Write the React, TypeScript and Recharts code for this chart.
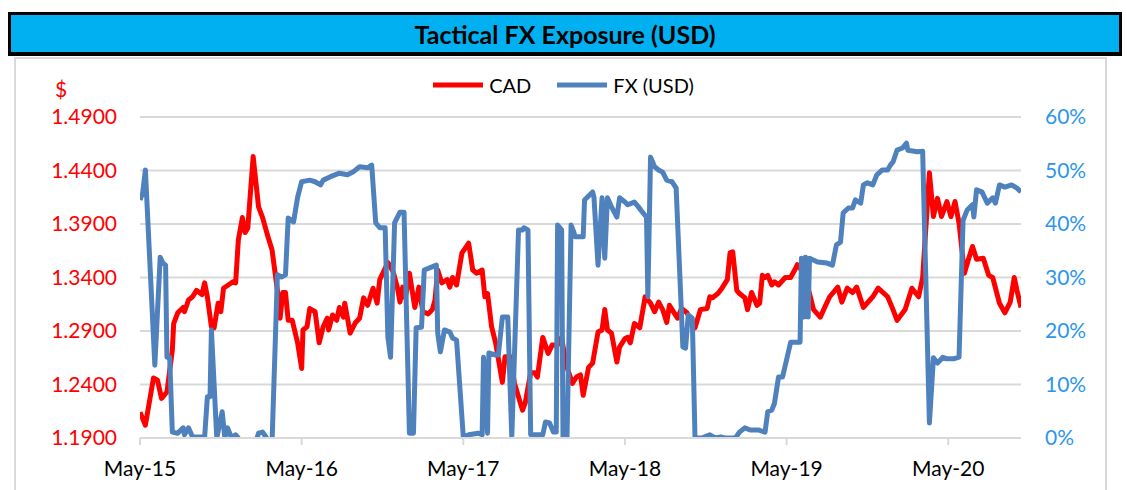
import { LineChart, Line, XAxis, YAxis, CartesianGrid, Legend } from 'recharts';

// months since May-2015
const cadMonths = [
  0.0, 0.4, 1.0, 1.3, 1.6, 2.0, 2.4, 2.5, 2.8, 3.2, 3.3, 3.6, 3.9, 4.2, 4.6, 4.8, 5.0, 5.3, 5.5, 5.8,
  6.0, 6.2, 6.9, 7.1, 7.3, 7.6, 7.8, 8.0, 8.4, 8.8, 9.1, 9.5, 9.8, 10.2, 10.4, 10.6, 10.8, 11.0, 11.3, 11.7,
  12.0, 12.1, 12.4, 12.6, 13.0, 13.3, 13.6, 13.9, 14.0, 14.3, 14.6, 14.8, 15.1, 15.2, 15.6, 16.0, 16.3, 16.6, 16.9, 17.3,
  17.6, 17.8, 18.4, 18.8, 19.1, 19.3, 19.5, 19.7, 20.0, 20.4, 20.7, 21.0, 21.4, 21.7, 21.9, 22.1, 22.4, 22.8, 23.0, 23.2,
  23.5, 23.9, 24.4, 24.7, 25.0, 25.4, 25.6, 25.8, 26.1, 26.4, 26.9, 27.1, 27.5, 27.8, 28.4, 28.6, 29.0, 29.3, 29.5, 29.9,
  30.3, 30.6, 31.0, 31.3, 31.6, 32.1, 32.4, 32.7, 32.9, 33.3, 33.6, 34.0, 34.3, 34.5, 34.7, 35.0, 35.4, 35.6, 36.0, 36.2,
  36.4, 36.7, 37.1, 37.5, 37.9, 38.2, 38.5, 38.8, 39.1, 39.3, 39.9, 40.2, 40.6, 41.2, 41.6, 42.1, 42.3, 42.5, 42.9, 43.2,
  43.6, 43.8, 44.0, 44.3, 44.5, 44.9, 45.1, 45.4, 45.8, 46.0, 46.2, 46.4, 46.6, 46.9, 47.1, 47.4, 47.9, 48.3, 48.6, 48.8,
  49.1, 49.5, 50.0, 50.5, 50.9, 51.2, 51.8, 52.1, 52.5, 52.9, 53.2, 53.7, 54.4, 54.8, 55.5, 55.9, 56.2, 56.8, 57.3, 57.8,
  58.1, 58.6, 58.9, 59.2, 59.5, 59.9, 60.2, 60.5, 60.8, 61.2, 61.5, 61.8, 62.1, 62.6, 63.0, 63.3, 63.8, 64.2, 64.6, 64.9,
  65.1, 65.4,
];
const cadValues = [
  1.214, 1.202, 1.246, 1.244, 1.227, 1.233, 1.272, 1.297, 1.307, 1.312, 1.308, 1.319, 1.322, 1.328, 1.324, 1.335, 1.322, 1.294, 1.293, 1.316,
  1.308, 1.330, 1.336, 1.335, 1.375, 1.396, 1.382, 1.386, 1.453, 1.406, 1.396, 1.378, 1.366, 1.328, 1.302, 1.326, 1.326, 1.300, 1.300, 1.279,
  1.255, 1.291, 1.294, 1.311, 1.308, 1.279, 1.294, 1.302, 1.291, 1.305, 1.300, 1.312, 1.303, 1.316, 1.288, 1.298, 1.302, 1.321, 1.314, 1.330,
  1.316, 1.338, 1.354, 1.345, 1.331, 1.317, 1.331, 1.321, 1.344, 1.312, 1.331, 1.308, 1.306, 1.310, 1.319, 1.347, 1.335, 1.338, 1.331, 1.340,
  1.333, 1.363, 1.372, 1.347, 1.344, 1.347, 1.322, 1.325, 1.294, 1.279, 1.242, 1.266, 1.266, 1.241, 1.216, 1.223, 1.251, 1.251, 1.247, 1.284,
  1.269, 1.277, 1.277, 1.284, 1.260, 1.241, 1.247, 1.249, 1.230, 1.256, 1.260, 1.289, 1.291, 1.310, 1.291, 1.288, 1.261, 1.275, 1.283, 1.284,
  1.279, 1.297, 1.293, 1.322, 1.316, 1.308, 1.317, 1.310, 1.298, 1.314, 1.302, 1.311, 1.307, 1.293, 1.310, 1.311, 1.322, 1.321, 1.325, 1.330,
  1.338, 1.363, 1.364, 1.328, 1.325, 1.321, 1.310, 1.326, 1.314, 1.316, 1.342, 1.340, 1.342, 1.333, 1.336, 1.333, 1.340, 1.340, 1.347, 1.352,
  1.347, 1.335, 1.310, 1.303, 1.314, 1.322, 1.331, 1.317, 1.330, 1.326, 1.331, 1.312, 1.322, 1.330, 1.322, 1.310, 1.300, 1.310, 1.330, 1.322,
  1.340, 1.438, 1.397, 1.414, 1.397, 1.411, 1.397, 1.411, 1.391, 1.344, 1.357, 1.369, 1.357, 1.358, 1.342, 1.340, 1.316, 1.307, 1.317, 1.340,
  1.328, 1.312,
];

const fxMonths = [
  0.0, 0.2, 0.4, 1.1, 1.5, 1.7, 1.9, 2.0, 2.2, 2.4, 2.8, 3.2, 3.3, 3.6, 3.9, 4.8, 5.0, 5.2, 5.3, 5.7,
  6.1, 6.3, 6.5, 6.8, 7.1, 7.3, 7.4, 8.5, 8.8, 9.1, 9.4, 9.8, 10.2, 10.5, 10.8, 11.0, 11.4, 11.7, 12.0, 12.6,
  13.0, 13.4, 13.6, 14.1, 14.8, 15.4, 15.8, 16.3, 16.9, 17.2, 17.5, 17.8, 18.2, 18.4, 18.6, 18.9, 19.3, 19.6, 20.0, 20.3,
  20.5, 20.9, 21.1, 21.5, 22.0, 22.1, 22.3, 22.6, 23.0, 23.2, 23.5, 24.0, 24.4, 25.1, 25.4, 25.5, 25.8, 25.9, 26.4, 26.6,
  26.9, 27.3, 27.6, 28.1, 28.4, 28.5, 28.8, 29.0, 29.9, 30.1, 30.4, 30.7, 30.9, 31.0, 31.3, 31.4, 31.7, 32.0, 32.2, 32.3,
  32.9, 33.0, 33.6, 33.7, 34.0, 34.3, 34.5, 34.7, 35.0, 35.4, 35.6, 36.0, 36.2, 36.7, 37.0, 37.3, 37.6, 37.7, 37.9, 38.2,
  38.5, 38.8, 39.1, 39.5, 39.8, 40.3, 40.5, 40.7, 41.0, 41.2, 41.7, 42.3, 42.7, 43.1, 43.4, 44.2, 44.5, 44.9, 45.3, 45.9,
  46.4, 46.6, 46.9, 47.1, 47.4, 47.7, 48.3, 49.0, 49.1, 49.3, 49.4, 49.6, 49.7, 50.3, 51.0, 51.4, 51.7, 52.0, 52.2, 52.6,
  52.9, 53.1, 53.5, 53.7, 54.0, 54.4, 54.7, 55.1, 55.5, 55.7, 55.9, 56.2, 56.6, 56.9, 57.0, 57.7, 58.1, 58.6, 58.9, 59.2,
  59.6, 59.9, 60.4, 60.8, 61.1, 61.4, 61.8, 61.9, 62.1, 62.5, 62.9, 63.3, 63.5, 63.8, 64.2, 64.7, 65.1, 65.4,
];
const fxValues = [
  44.5, 45.8, 50.1, 13.6, 33.8, 32.7, 32.3, 15.1, 15.1, 1.1, 0.9, 1.9, 0.6, 1.9, 0.2, 0.2, 7.7, 7.7, 20.2, 0,
  4.9, 0, 1.9, 0, 0.6, 0, -1.5, -1.5, 0.9, 1.1, 0, -1, 30.5, 30.1, 30.5, 41.1, 40.4, 45.0, 47.9, 48.2,
  47.9, 47.3, 48.2, 48.8, 49.5, 49.2, 49.7, 50.7, 50.5, 51.0, 40.2, 39.3, 39.3, 18.9, 15.1, 40.2, 42.2, 42.2, 0.9, 0.9,
  20.6, 20.7, 31.4, 31.8, 32.3, 19.6, 16.1, 20.2, 19.8, 18.7, 18.3, 0.2, 0.6, 0.9, 0.6, 15.1, 0.9, 15.9, 15.5, 15.5,
  22.6, 22.6, 0.2, 38.9, 38.9, 39.3, 38.9, 0.6, 0.6, 3.0, 2.8, 1.1, 1.1, 39.8, 38.9, 0.2, 0.2, 39.8, 38.5, 37.6,
  37.6, 44.5, 46.0, 45.0, 32.3, 44.9, 33.6, 44.9, 43.2, 41.3, 44.9, 44.1, 43.6, 44.1, 43.2, 42.2, 41.3, 26.4, 52.5, 50.7,
  50.1, 49.7, 48.2, 47.9, 46.7, 17.0, 16.8, 23.0, 22.4, 0, 0, 0.6, 0, 0.2, 0, 0, 1.1, 1.9, 1.5, 1.5,
  1.1, 4.9, 5.2, 6.5, 11.4, 11.4, 17.9, 17.9, 33.6, 22.6, 33.8, 22.6, 33.6, 32.9, 32.7, 32.3, 36.1, 36.6, 42.1, 43.0,
  43.0, 44.5, 43.9, 47.3, 47.7, 47.3, 49.2, 50.1, 50.1, 51.0, 51.6, 53.8, 54.2, 55.1, 53.8, 53.5, 53.6, 2.8, 15.0, 14.0,
  15.1, 14.8, 14.8, 15.1, 40.7, 42.6, 43.6, 41.3, 46.4, 46.0, 43.9, 44.9, 43.9, 47.3, 46.9, 47.3, 46.7, 46.0,
];

const xTicks = [0, 12, 24, 36, 48, 60];
const xTickLabels = ['May-15', 'May-16', 'May-17', 'May-18', 'May-19', 'May-20'];
const leftTicks = [1.19, 1.24, 1.29, 1.34, 1.39, 1.44, 1.49];
const rightTicks = [0, 10, 20, 30, 40, 50, 60];

const cadData = cadMonths.map((m, i) => ({ m, cad: cadValues[i] }));
const fxData = fxMonths.map((m, i) => ({ m, fx: fxValues[i] }));

const FONT = 'Lato, "Open Sans", sans-serif';
const RED = '#FF0000';
const BLUE = '#4F81BD';
const PCT_BLUE = '#2E95EC';

function LegendContent() {
  const item = (color: string, label: string) => (
    <div style={{ display: 'flex', alignItems: 'center', gap: 6 }}>
      <svg width={50} height={10}>
        <line x1={0} y1={5} x2={50} y2={5} stroke={color} strokeWidth={5} />
      </svg>
      <span>{label}</span>
    </div>
  );
  return (
    <div style={{ display: 'flex', justifyContent: 'center', gap: 26, fontFamily: FONT, fontSize: 20, color: '#000' }}>
      {item(RED, 'CAD')}
      {item(BLUE, 'FX (USD)')}
    </div>
  );
}

export default function App() {
  return (
    <div style={{ position: 'absolute', left: 0, top: 0, width: 1127, height: 490, background: '#fff', overflow: 'hidden' }}>
      <div
        style={{
          position: 'absolute', left: 8, top: 12, width: 1108, height: 37,
          background: '#00B0F0', border: '3px solid #000', borderBottomWidth: 4,
          display: 'flex', alignItems: 'center', justifyContent: 'center',
          fontFamily: FONT, fontWeight: 700, fontSize: 25, color: '#000',
        }}
      >
        Tactical FX Exposure (USD)
      </div>
      <div style={{ position: 'absolute', left: 14, top: 57, width: 1089, height: 450, border: '2px solid #D9D9D9' }} />
      <div style={{ position: 'absolute', left: 55, top: 76, fontFamily: FONT, fontSize: 21, color: RED }}>$</div>
      <div style={{ position: 'absolute', left: 0, top: 0 }}>
        <LineChart width={1127} height={490} margin={{ top: 117, right: 0, bottom: 0, left: 0 }}>
          <CartesianGrid yAxisId="left" horizontal vertical={false} stroke="#D9D9D9" strokeWidth={2} />
          <XAxis
            dataKey="m"
            type="number"
            domain={[0, 65.4]}
            ticks={xTicks}
            tickFormatter={(v: number) => xTickLabels[xTicks.indexOf(v)]}
            height={52}
            axisLine={{ stroke: '#D9D9D9', strokeWidth: 2 }}
            tickLine={{ stroke: '#D9D9D9', strokeWidth: 2 }}
            tickSize={7}
            tickMargin={16}
            tick={{ fill: '#000', fontSize: 21, fontFamily: FONT }}
            allowDataOverflow
          />
          <YAxis
            yAxisId="left"
            orientation="left"
            domain={[1.19, 1.49]}
            ticks={leftTicks}
            tickFormatter={(v: number) => v.toFixed(4)}
            width={140}
            axisLine={false}
            tickLine={false}
            tickSize={0}
            tickMargin={23}
            tick={{ fill: RED, fontSize: 21, fontFamily: FONT }}
            allowDataOverflow
          />
          <YAxis
            yAxisId="right"
            orientation="right"
            domain={[0, 60]}
            ticks={rightTicks}
            tickFormatter={(v: number) => `${v}%`}
            width={106}
            axisLine={false}
            tickLine={false}
            tickSize={0}
            tickMargin={24}
            tick={{ fill: PCT_BLUE, fontSize: 21, fontFamily: FONT }}
            allowDataOverflow
          />
          <Legend
            layout="horizontal"
            verticalAlign="middle"
            align="center"
            wrapperStyle={{ top: 73, left: 0, width: 1127 }}
            content={() => <LegendContent />}
          />
          <Line
            yAxisId="left"
            data={cadData}
            dataKey="cad"
            name="CAD"
            type="linear"
            stroke={RED}
            strokeWidth={5}
            strokeLinejoin="round"
            dot={false}
            activeDot={false}
            isAnimationActive={false}
          />
          <Line
            yAxisId="right"
            data={fxData}
            dataKey="fx"
            name="FX (USD)"
            type="linear"
            stroke={BLUE}
            strokeWidth={5}
            strokeLinejoin="round"
            dot={false}
            activeDot={false}
            isAnimationActive={false}
          />
        </LineChart>
      </div>
    </div>
  );
}
